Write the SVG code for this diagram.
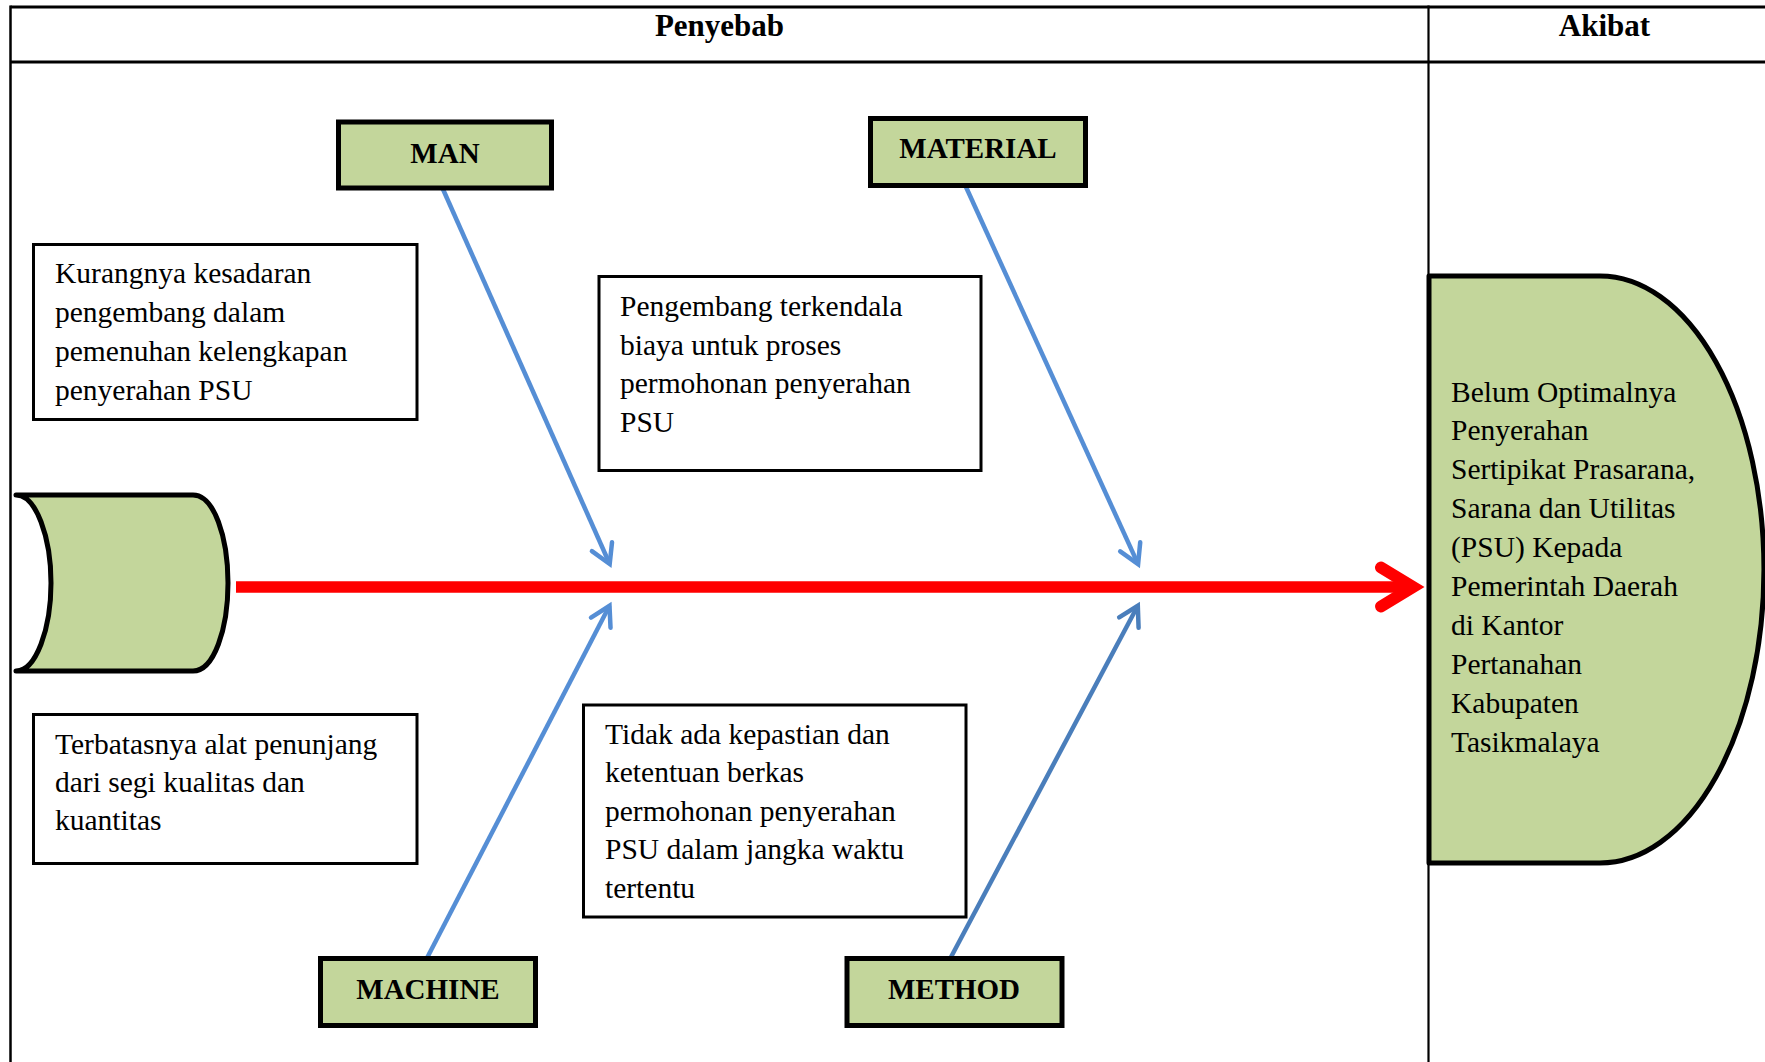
<svg xmlns="http://www.w3.org/2000/svg" width="1765" height="1062" viewBox="0 0 1765 1062">
  <style>
    .frame { stroke: #000; fill: none; }
    .hdr { font-family: "Liberation Serif", "Times New Roman", serif; font-weight: bold; font-size: 31px; fill: #000; text-anchor: middle; }
    .cat rect { fill: #C3D69B; stroke: #000; stroke-width: 5; }
    .cat text { font-family: "Liberation Serif", "Times New Roman", serif; font-weight: bold; font-size: 29px; fill: #000; text-anchor: middle; }
    .cause rect { fill: #fff; stroke: #000; stroke-width: 3; }
    .txt { font-family: "Liberation Serif", "Times New Roman", serif; font-size: 29.5px; fill: #000; }
    .shape { fill: #C3D69B; stroke: #000; stroke-width: 5; stroke-linejoin: round; }
    .bone { fill: none; stroke-width: 4.5; }
  </style>
  <defs>
    <marker id="ahBlue" markerUnits="userSpaceOnUse" viewBox="-30 -20 40 40" markerWidth="40" markerHeight="40" refX="0" refY="0" orient="auto" overflow="visible">
      <path d="M-19,-11 L0,0 L-19,11" fill="none" stroke="#558ED5" stroke-width="4.5" stroke-linecap="round" stroke-linejoin="miter"/>
    </marker>
    <marker id="ahDark" markerUnits="userSpaceOnUse" viewBox="-30 -20 40 40" markerWidth="40" markerHeight="40" refX="0" refY="0" orient="auto" overflow="visible">
      <path d="M-19,-11 L0,0 L-19,11" fill="none" stroke="#4A7EBB" stroke-width="4.5" stroke-linecap="round" stroke-linejoin="miter"/>
    </marker>
    <marker id="ahRed" markerUnits="userSpaceOnUse" viewBox="-40 -25 60 50" markerWidth="60" markerHeight="50" refX="0" refY="0" orient="auto" overflow="visible">
      <path d="M-32,-19.5 L0,0 L-32,19.5" fill="none" stroke="#FF0000" stroke-width="12" stroke-linecap="round" stroke-linejoin="miter"/>
    </marker>
  </defs>

  <rect width="1765" height="1062" fill="#fff"/>

  <!-- table frame -->
  <g id="table">
    <line class="frame" x1="10.5" y1="7" x2="1765" y2="7" stroke-width="3"/>
    <line class="frame" x1="10.5" y1="62" x2="1765" y2="62" stroke-width="3"/>
    <line class="frame" x1="10.5" y1="5.5" x2="10.5" y2="1062" stroke-width="2.5"/>
    <line class="frame" x1="1428.5" y1="5.5" x2="1428.5" y2="1062" stroke-width="2.2"/>
    <text class="hdr" x="719.5" y="36">Penyebab</text>
    <text class="hdr" x="1604.5" y="36">Akibat</text>
  </g>

  <!-- connectors -->
  <g id="connectors">
    <line x1="236" y1="587" x2="1413" y2="587" stroke="#FF0000" stroke-width="11.5" marker-end="url(#ahRed)"/>
    <line class="bone" x1="442" y1="187" x2="609.7" y2="564" stroke="#558ED5" marker-end="url(#ahBlue)"/>
    <line class="bone" x1="966" y1="187" x2="1138.1" y2="564.1" stroke="#558ED5" marker-end="url(#ahBlue)"/>
    <line class="bone" x1="427" y1="958" x2="609.5" y2="605.8" stroke="#558ED5" marker-end="url(#ahBlue)"/>
    <line class="bone" x1="950.5" y1="958" x2="1137.8" y2="605.8" stroke="#4A7EBB" marker-end="url(#ahDark)"/>
  </g>

  <!-- category nodes -->
  <g id="man" class="cat">
    <rect x="338.5" y="122" width="213" height="66"/>
    <text x="445" y="163">MAN</text>
  </g>
  <g id="material" class="cat">
    <rect x="870.5" y="118.5" width="215" height="67"/>
    <text x="978" y="158">MATERIAL</text>
  </g>
  <g id="machine" class="cat">
    <rect x="320.5" y="958.5" width="215" height="67"/>
    <text x="428" y="999">MACHINE</text>
  </g>
  <g id="method" class="cat">
    <rect x="847" y="958.5" width="215" height="67"/>
    <text x="954" y="999">METHOD</text>
  </g>

  <!-- cause boxes -->
  <g id="cause-man" class="cause">
    <rect x="33.5" y="244.5" width="383.5" height="175"/>
    <text class="txt" x="55" y="283">Kurangnya kesadaran</text>
    <text class="txt" x="55" y="322">pengembang dalam</text>
    <text class="txt" x="55" y="361">pemenuhan kelengkapan</text>
    <text class="txt" x="55" y="400">penyerahan PSU</text>
  </g>
  <g id="cause-material" class="cause">
    <rect x="599" y="276.5" width="382" height="194"/>
    <text class="txt" x="620" y="316">Pengembang terkendala</text>
    <text class="txt" x="620" y="354.5">biaya untuk proses</text>
    <text class="txt" x="620" y="393">permohonan penyerahan</text>
    <text class="txt" x="620" y="431.5">PSU</text>
  </g>
  <g id="cause-machine" class="cause">
    <rect x="33.5" y="714.5" width="383.5" height="149"/>
    <text class="txt" x="55" y="753.5">Terbatasnya alat penunjang</text>
    <text class="txt" x="55" y="791.5">dari segi kualitas dan</text>
    <text class="txt" x="55" y="830">kuantitas</text>
  </g>
  <g id="cause-method" class="cause">
    <rect x="583.5" y="705" width="382.5" height="212"/>
    <text class="txt" x="605" y="743.5">Tidak ada kepastian dan</text>
    <text class="txt" x="605" y="782">ketentuan berkas</text>
    <text class="txt" x="605" y="820.5">permohonan penyerahan</text>
    <text class="txt" x="605" y="859">PSU dalam jangka waktu</text>
    <text class="txt" x="605" y="897.5">tertentu</text>
  </g>

  <!-- fish tail (left) -->
  <g id="tail">
    <path class="shape" d="M16,495 L193,495 C214,495 228,537 228,583 C228,629 214,671 193,671 L16,671 C36,671 51,629 51,583 C51,537 36,495 16,495 Z"/>
  </g>

  <!-- effect head (right) -->
  <g id="effect">
    <path class="shape" d="M1429,276 L1600,276 A164,293.5 0 0 1 1600,863 L1429,863 Z" stroke-linejoin="miter"/>
    <text class="txt" x="1451" y="401.5">Belum Optimalnya</text>
    <text class="txt" x="1451" y="440.4">Penyerahan</text>
    <text class="txt" x="1451" y="479.3">Sertipikat Prasarana,</text>
    <text class="txt" x="1451" y="518.2">Sarana dan Utilitas</text>
    <text class="txt" x="1451" y="557.1">(PSU) Kepada</text>
    <text class="txt" x="1451" y="596">Pemerintah Daerah</text>
    <text class="txt" x="1451" y="634.9">di Kantor</text>
    <text class="txt" x="1451" y="673.8">Pertanahan</text>
    <text class="txt" x="1451" y="712.7">Kabupaten</text>
    <text class="txt" x="1451" y="751.6">Tasikmalaya</text>
  </g>
</svg>
